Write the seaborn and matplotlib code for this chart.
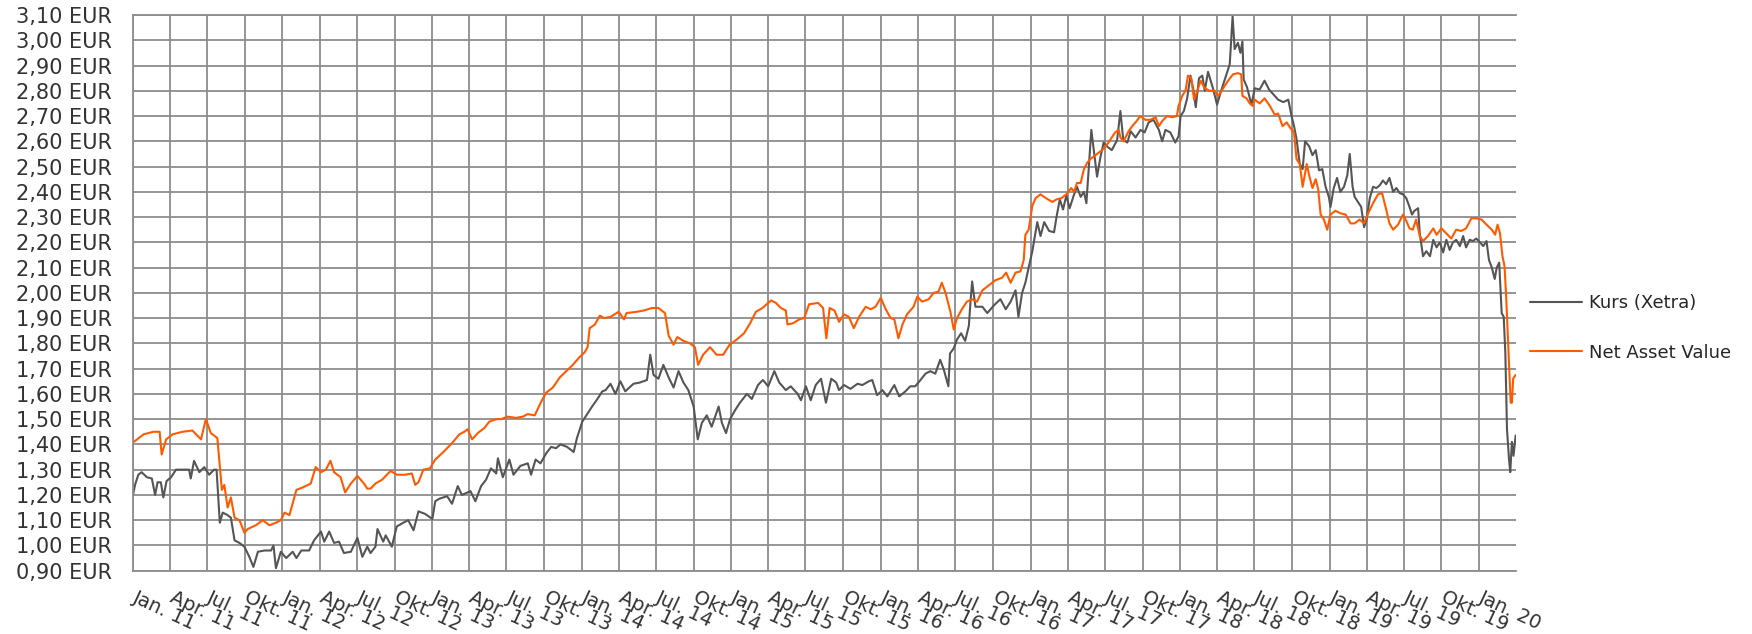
import numpy as np
import pandas as pd
import matplotlib
matplotlib.use("Agg")
import matplotlib.pyplot as plt
import matplotlib.transforms as mtransforms
import seaborn as sns

# values (EUR)
kurs_points = [
    ("2011-01-01", 1.20), ("2011-01-06", 1.24), ("2011-01-14", 1.28), ("2011-01-22", 1.29),
    ("2011-02-04", 1.27), ("2011-02-16", 1.265), ("2011-02-24", 1.20), ("2011-03-02", 1.25),
    ("2011-03-10", 1.25), ("2011-03-16", 1.19), ("2011-03-24", 1.255), ("2011-04-04", 1.27),
    ("2011-04-16", 1.30), ("2011-05-02", 1.30), ("2011-05-18", 1.30), ("2011-05-22", 1.265),
    ("2011-05-30", 1.335), ("2011-06-12", 1.29), ("2011-06-24", 1.31), ("2011-07-06", 1.28),
    ("2011-07-18", 1.30), ("2011-07-24", 1.30), ("2011-08-01", 1.09), ("2011-08-08", 1.13),
    ("2011-08-20", 1.12), ("2011-08-28", 1.11), ("2011-09-06", 1.02), ("2011-09-18", 1.01),
    ("2011-09-30", 0.995), ("2011-10-12", 0.955), ("2011-10-22", 0.915), ("2011-11-02", 0.975),
    ("2011-11-18", 0.98), ("2011-12-04", 0.98), ("2011-12-10", 1.00), ("2011-12-16", 0.91),
    ("2011-12-28", 0.975), ("2012-01-10", 0.95), ("2012-01-26", 0.975), ("2012-02-04", 0.95),
    ("2012-02-16", 0.98), ("2012-03-06", 0.98), ("2012-03-18", 1.02), ("2012-04-04", 1.055),
    ("2012-04-12", 1.015), ("2012-04-24", 1.055), ("2012-05-06", 1.01), ("2012-05-18", 1.015),
    ("2012-05-30", 0.97), ("2012-06-16", 0.975), ("2012-07-02", 1.03), ("2012-07-14", 0.955),
    ("2012-07-26", 0.995), ("2012-08-03", 0.97), ("2012-08-15", 0.995), ("2012-08-20", 1.065),
    ("2012-09-03", 1.015), ("2012-09-09", 1.04), ("2012-09-24", 0.995), ("2012-10-06", 1.075),
    ("2012-10-22", 1.09), ("2012-11-03", 1.10), ("2012-11-16", 1.06), ("2012-11-28", 1.135),
    ("2012-12-14", 1.125), ("2013-01-01", 1.105), ("2013-01-08", 1.175), ("2013-01-18", 1.185),
    ("2013-02-06", 1.195), ("2013-02-18", 1.165), ("2013-03-04", 1.235), ("2013-03-14", 1.20),
    ("2013-04-04", 1.215), ("2013-04-16", 1.175), ("2013-04-30", 1.235), ("2013-05-12", 1.26),
    ("2013-05-24", 1.305), ("2013-06-06", 1.285), ("2013-06-10", 1.345), ("2013-06-22", 1.27),
    ("2013-07-08", 1.34), ("2013-07-18", 1.28), ("2013-08-04", 1.315), ("2013-08-22", 1.325),
    ("2013-08-30", 1.28), ("2013-09-10", 1.34), ("2013-09-22", 1.325), ("2013-10-06", 1.365),
    ("2013-10-18", 1.39), ("2013-10-30", 1.385), ("2013-11-10", 1.40), ("2013-11-26", 1.39),
    ("2013-12-12", 1.37), ("2013-12-20", 1.425), ("2014-01-02", 1.49), ("2014-01-16", 1.525),
    ("2014-01-26", 1.55), ("2014-02-08", 1.58), ("2014-02-20", 1.61), ("2014-02-28", 1.615),
    ("2014-03-12", 1.64), ("2014-03-24", 1.60), ("2014-04-05", 1.65), ("2014-04-17", 1.61),
    ("2014-05-07", 1.64), ("2014-05-23", 1.645), ("2014-06-09", 1.655), ("2014-06-17", 1.755),
    ("2014-06-25", 1.675), ("2014-07-07", 1.66), ("2014-07-19", 1.715), ("2014-08-01", 1.665),
    ("2014-08-13", 1.625), ("2014-08-25", 1.69), ("2014-09-06", 1.645), ("2014-09-18", 1.615),
    ("2014-10-01", 1.55), ("2014-10-11", 1.42), ("2014-10-21", 1.485), ("2014-11-02", 1.515),
    ("2014-11-14", 1.47), ("2014-12-01", 1.55), ("2014-12-09", 1.485), ("2014-12-19", 1.445),
    ("2014-12-29", 1.50), ("2015-01-10", 1.535), ("2015-01-22", 1.565), ("2015-02-08", 1.60),
    ("2015-02-20", 1.58), ("2015-03-07", 1.635), ("2015-03-19", 1.655), ("2015-04-01", 1.63),
    ("2015-04-16", 1.69), ("2015-04-28", 1.645), ("2015-05-14", 1.615), ("2015-05-26", 1.63),
    ("2015-06-12", 1.60), ("2015-06-20", 1.575), ("2015-07-02", 1.63), ("2015-07-14", 1.575),
    ("2015-07-26", 1.635), ("2015-08-08", 1.66), ("2015-08-20", 1.565), ("2015-09-02", 1.66),
    ("2015-09-14", 1.645), ("2015-09-21", 1.615), ("2015-10-03", 1.635), ("2015-10-19", 1.62),
    ("2015-11-05", 1.64), ("2015-11-17", 1.635), ("2015-12-03", 1.65), ("2015-12-11", 1.655),
    ("2015-12-23", 1.595), ("2016-01-05", 1.615), ("2016-01-17", 1.59), ("2016-02-03", 1.635),
    ("2016-02-15", 1.59), ("2016-03-01", 1.61), ("2016-03-13", 1.63), ("2016-03-25", 1.63),
    ("2016-04-07", 1.655), ("2016-04-19", 1.68), ("2016-05-01", 1.69), ("2016-05-13", 1.68),
    ("2016-05-25", 1.735), ("2016-06-03", 1.695), ("2016-06-14", 1.63), ("2016-06-18", 1.76),
    ("2016-06-27", 1.78), ("2016-07-05", 1.815), ("2016-07-15", 1.84), ("2016-07-25", 1.81),
    ("2016-08-03", 1.87), ("2016-08-07", 1.965), ("2016-08-11", 2.045), ("2016-08-19", 1.945),
    ("2016-09-05", 1.945), ("2016-09-17", 1.92), ("2016-10-03", 1.95), ("2016-10-19", 1.975),
    ("2016-11-01", 1.935), ("2016-11-13", 1.965), ("2016-11-25", 2.01), ("2016-12-02", 1.905),
    ("2016-12-11", 2.00), ("2016-12-19", 2.04), ("2016-12-27", 2.10), ("2017-01-05", 2.165),
    ("2017-01-13", 2.24), ("2017-01-17", 2.28), ("2017-01-25", 2.225), ("2017-02-03", 2.28),
    ("2017-02-15", 2.245), ("2017-02-27", 2.24), ("2017-03-05", 2.30), ("2017-03-13", 2.37),
    ("2017-03-21", 2.33), ("2017-03-29", 2.385), ("2017-04-06", 2.335), ("2017-04-17", 2.39),
    ("2017-04-24", 2.42), ("2017-05-03", 2.38), ("2017-05-11", 2.40), ("2017-05-17", 2.355),
    ("2017-05-23", 2.50), ("2017-05-29", 2.645), ("2017-06-04", 2.565), ("2017-06-12", 2.46),
    ("2017-06-20", 2.535), ("2017-06-28", 2.595), ("2017-07-06", 2.58), ("2017-07-18", 2.565),
    ("2017-07-31", 2.605), ("2017-08-08", 2.72), ("2017-08-15", 2.605), ("2017-08-25", 2.595),
    ("2017-09-02", 2.64), ("2017-09-14", 2.615), ("2017-09-26", 2.645), ("2017-10-06", 2.635),
    ("2017-10-16", 2.675), ("2017-10-28", 2.685), ("2017-11-10", 2.645), ("2017-11-18", 2.60),
    ("2017-11-26", 2.645), ("2017-12-08", 2.635), ("2017-12-20", 2.595), ("2017-12-28", 2.62),
    ("2018-01-02", 2.70), ("2018-01-10", 2.72), ("2018-01-18", 2.77), ("2018-01-26", 2.86),
    ("2018-02-02", 2.805), ("2018-02-08", 2.735), ("2018-02-16", 2.85), ("2018-02-24", 2.86),
    ("2018-03-02", 2.80), ("2018-03-10", 2.875), ("2018-03-22", 2.81), ("2018-04-01", 2.745),
    ("2018-04-12", 2.805), ("2018-04-24", 2.865), ("2018-05-02", 2.905), ("2018-05-09", 3.095),
    ("2018-05-14", 2.965), ("2018-05-22", 2.99), ("2018-05-28", 2.95), ("2018-06-02", 2.995),
    ("2018-06-05", 2.845), ("2018-06-13", 2.815), ("2018-06-24", 2.745), ("2018-07-02", 2.81),
    ("2018-07-14", 2.805), ("2018-07-26", 2.84), ("2018-08-06", 2.805), ("2018-08-17", 2.785),
    ("2018-08-28", 2.765), ("2018-09-10", 2.755), ("2018-09-22", 2.765), ("2018-09-30", 2.70),
    ("2018-10-06", 2.66), ("2018-10-12", 2.61), ("2018-10-20", 2.51), ("2018-10-27", 2.49),
    ("2018-11-02", 2.60), ("2018-11-12", 2.58), ("2018-11-20", 2.545), ("2018-11-28", 2.565),
    ("2018-12-06", 2.485), ("2018-12-14", 2.49), ("2018-12-22", 2.42), ("2018-12-30", 2.38),
    ("2019-01-03", 2.34), ("2019-01-11", 2.415), ("2019-01-19", 2.455), ("2019-01-27", 2.40),
    ("2019-02-05", 2.42), ("2019-02-13", 2.465), ("2019-02-19", 2.55), ("2019-02-26", 2.42),
    ("2019-03-03", 2.38), ("2019-03-11", 2.36), ("2019-03-19", 2.34), ("2019-03-26", 2.26),
    ("2019-04-01", 2.29), ("2019-04-09", 2.375), ("2019-04-17", 2.42), ("2019-04-25", 2.415),
    ("2019-05-03", 2.425), ("2019-05-11", 2.445), ("2019-05-19", 2.43), ("2019-05-27", 2.455),
    ("2019-06-05", 2.40), ("2019-06-13", 2.415), ("2019-06-21", 2.395), ("2019-06-29", 2.39),
    ("2019-07-07", 2.375), ("2019-07-15", 2.34), ("2019-07-21", 2.31), ("2019-07-27", 2.325),
    ("2019-08-05", 2.335), ("2019-08-09", 2.235), ("2019-08-17", 2.145), ("2019-08-25", 2.165),
    ("2019-09-03", 2.145), ("2019-09-11", 2.21), ("2019-09-19", 2.18), ("2019-09-27", 2.20),
    ("2019-10-05", 2.16), ("2019-10-13", 2.21), ("2019-10-21", 2.17), ("2019-10-29", 2.20),
    ("2019-11-06", 2.21), ("2019-11-15", 2.185), ("2019-11-23", 2.225), ("2019-11-30", 2.18),
    ("2019-12-09", 2.21), ("2019-12-17", 2.205), ("2019-12-25", 2.215), ("2020-01-03", 2.20),
    ("2020-01-11", 2.185), ("2020-01-19", 2.205), ("2020-01-25", 2.13), ("2020-02-01", 2.10),
    ("2020-02-08", 2.055), ("2020-02-13", 2.10), ("2020-02-19", 2.12), ("2020-02-25", 1.92),
    ("2020-03-01", 1.905), ("2020-03-05", 1.76), ("2020-03-09", 1.46), ("2020-03-14", 1.34),
    ("2020-03-17", 1.29), ("2020-03-21", 1.41), ("2020-03-25", 1.355), ("2020-03-30", 1.435),
]

nav_points = [
    ("2011-01-03", 1.41), ("2011-01-27", 1.44), ("2011-02-20", 1.45), ("2011-03-07", 1.45),
    ("2011-03-12", 1.36), ("2011-03-23", 1.42), ("2011-04-08", 1.44), ("2011-05-02", 1.45),
    ("2011-05-26", 1.455), ("2011-06-16", 1.42), ("2011-06-28", 1.50), ("2011-07-10", 1.445),
    ("2011-07-26", 1.425), ("2011-08-06", 1.22), ("2011-08-12", 1.24), ("2011-08-20", 1.15),
    ("2011-08-28", 1.19), ("2011-09-06", 1.11), ("2011-09-18", 1.10), ("2011-09-30", 1.05),
    ("2011-10-08", 1.065), ("2011-10-28", 1.08), ("2011-11-14", 1.10), ("2011-11-30", 1.08),
    ("2011-12-16", 1.09), ("2011-12-28", 1.10), ("2012-01-06", 1.13), ("2012-01-18", 1.12),
    ("2012-02-04", 1.22), ("2012-02-20", 1.23), ("2012-03-10", 1.245), ("2012-03-22", 1.31),
    ("2012-04-04", 1.29), ("2012-04-16", 1.30), ("2012-04-27", 1.335), ("2012-05-06", 1.29),
    ("2012-05-22", 1.27), ("2012-06-02", 1.21), ("2012-06-16", 1.245), ("2012-07-02", 1.275),
    ("2012-07-18", 1.245), ("2012-07-26", 1.225), ("2012-08-03", 1.225), ("2012-08-15", 1.245),
    ("2012-08-31", 1.26), ("2012-09-21", 1.295), ("2012-10-06", 1.28), ("2012-10-26", 1.28),
    ("2012-11-12", 1.285), ("2012-11-20", 1.24), ("2012-11-28", 1.25), ("2012-12-10", 1.30),
    ("2012-12-26", 1.305), ("2013-01-08", 1.34), ("2013-01-28", 1.37), ("2013-02-18", 1.405),
    ("2013-03-08", 1.44), ("2013-03-20", 1.45), ("2013-03-28", 1.46), ("2013-04-08", 1.42),
    ("2013-04-22", 1.445), ("2013-05-08", 1.465), ("2013-05-20", 1.49), ("2013-06-06", 1.50),
    ("2013-06-18", 1.50), ("2013-07-04", 1.51), ("2013-07-24", 1.505), ("2013-08-10", 1.51),
    ("2013-08-22", 1.52), ("2013-09-08", 1.515), ("2013-09-24", 1.57), ("2013-10-06", 1.605),
    ("2013-10-22", 1.625), ("2013-11-08", 1.665), ("2013-11-24", 1.69), ("2013-12-10", 1.715),
    ("2013-12-26", 1.745), ("2014-01-08", 1.765), ("2014-01-15", 1.785), ("2014-01-20", 1.86),
    ("2014-02-02", 1.875), ("2014-02-14", 1.91), ("2014-02-24", 1.90), ("2014-03-12", 1.905),
    ("2014-04-01", 1.925), ("2014-04-14", 1.895), ("2014-04-20", 1.92), ("2014-05-15", 1.925),
    ("2014-06-01", 1.93), ("2014-06-21", 1.94), ("2014-07-07", 1.94), ("2014-07-23", 1.92),
    ("2014-08-01", 1.83), ("2014-08-13", 1.795), ("2014-08-22", 1.825), ("2014-09-06", 1.81),
    ("2014-09-22", 1.80), ("2014-10-04", 1.785), ("2014-10-12", 1.715), ("2014-10-24", 1.755),
    ("2014-11-10", 1.785), ("2014-11-26", 1.755), ("2014-12-12", 1.755), ("2014-12-28", 1.795),
    ("2015-01-14", 1.815), ("2015-02-01", 1.84), ("2015-02-16", 1.88), ("2015-03-02", 1.925),
    ("2015-03-18", 1.94), ("2015-04-08", 1.97), ("2015-04-20", 1.96), ("2015-05-02", 1.94),
    ("2015-05-14", 1.93), ("2015-05-18", 1.875), ("2015-06-01", 1.88), ("2015-06-16", 1.895),
    ("2015-06-28", 1.90), ("2015-07-10", 1.955), ("2015-08-01", 1.96), ("2015-08-13", 1.94),
    ("2015-08-21", 1.82), ("2015-08-29", 1.94), ("2015-09-10", 1.93), ("2015-09-21", 1.885),
    ("2015-10-03", 1.915), ("2015-10-15", 1.905), ("2015-10-27", 1.86), ("2015-11-09", 1.905),
    ("2015-11-25", 1.945), ("2015-12-07", 1.935), ("2015-12-19", 1.945), ("2016-01-01", 1.98),
    ("2016-01-13", 1.935), ("2016-01-25", 1.90), ("2016-02-03", 1.895), ("2016-02-13", 1.82),
    ("2016-02-23", 1.875), ("2016-03-05", 1.915), ("2016-03-21", 1.945), ("2016-03-30", 1.985),
    ("2016-04-11", 1.965), ("2016-04-27", 1.975), ("2016-05-09", 2.00), ("2016-05-21", 2.005),
    ("2016-05-29", 2.04), ("2016-06-07", 2.00), ("2016-06-19", 1.925), ("2016-06-27", 1.855),
    ("2016-07-05", 1.90), ("2016-07-17", 1.935), ("2016-07-29", 1.965), ("2016-08-11", 1.975),
    ("2016-08-23", 1.965), ("2016-09-05", 2.01), ("2016-09-21", 2.03), ("2016-10-07", 2.05),
    ("2016-10-23", 2.06), ("2016-11-02", 2.08), ("2016-11-13", 2.04), ("2016-11-25", 2.08),
    ("2016-12-07", 2.085), ("2016-12-15", 2.13), ("2016-12-19", 2.23), ("2016-12-27", 2.25),
    ("2017-01-05", 2.345), ("2017-01-13", 2.375), ("2017-01-25", 2.39), ("2017-02-07", 2.375),
    ("2017-02-23", 2.36), ("2017-03-05", 2.37), ("2017-03-17", 2.375), ("2017-03-29", 2.39),
    ("2017-04-10", 2.415), ("2017-04-17", 2.40), ("2017-04-24", 2.435), ("2017-05-03", 2.435),
    ("2017-05-11", 2.49), ("2017-05-19", 2.515), ("2017-05-27", 2.53), ("2017-06-04", 2.54),
    ("2017-06-16", 2.555), ("2017-06-28", 2.57), ("2017-07-10", 2.595), ("2017-07-18", 2.615),
    ("2017-07-26", 2.635), ("2017-08-04", 2.645), ("2017-08-08", 2.615), ("2017-08-16", 2.60),
    ("2017-08-28", 2.64), ("2017-09-06", 2.66), ("2017-09-14", 2.675), ("2017-09-26", 2.70),
    ("2017-10-08", 2.685), ("2017-10-20", 2.685), ("2017-11-02", 2.695), ("2017-11-10", 2.66),
    ("2017-11-18", 2.68), ("2017-11-30", 2.70), ("2017-12-12", 2.695), ("2017-12-24", 2.70),
    ("2017-12-28", 2.74), ("2018-01-06", 2.78), ("2018-01-14", 2.80), ("2018-01-20", 2.86),
    ("2018-01-28", 2.85), ("2018-02-04", 2.765), ("2018-02-12", 2.80), ("2018-02-20", 2.84),
    ("2018-03-02", 2.81), ("2018-03-14", 2.80), ("2018-03-26", 2.80), ("2018-04-04", 2.78),
    ("2018-04-16", 2.81), ("2018-04-28", 2.84), ("2018-05-10", 2.865), ("2018-05-22", 2.87),
    ("2018-05-30", 2.865), ("2018-06-02", 2.78), ("2018-06-12", 2.77), ("2018-06-20", 2.75),
    ("2018-06-27", 2.74), ("2018-07-02", 2.765), ("2018-07-14", 2.75), ("2018-07-26", 2.77),
    ("2018-08-08", 2.74), ("2018-08-20", 2.705), ("2018-08-28", 2.71), ("2018-09-08", 2.66),
    ("2018-09-18", 2.675), ("2018-09-26", 2.655), ("2018-10-06", 2.635), ("2018-10-12", 2.53),
    ("2018-10-20", 2.51), ("2018-10-27", 2.42), ("2018-11-06", 2.51), ("2018-11-12", 2.465),
    ("2018-11-20", 2.415), ("2018-11-28", 2.45), ("2018-12-04", 2.41), ("2018-12-10", 2.31),
    ("2018-12-18", 2.29), ("2018-12-26", 2.25), ("2019-01-03", 2.31), ("2019-01-15", 2.325),
    ("2019-01-27", 2.315), ("2019-02-09", 2.31), ("2019-02-21", 2.275), ("2019-03-03", 2.275),
    ("2019-03-15", 2.29), ("2019-03-26", 2.275), ("2019-04-05", 2.315), ("2019-04-17", 2.355),
    ("2019-04-29", 2.39), ("2019-05-09", 2.395), ("2019-05-19", 2.33), ("2019-05-27", 2.275),
    ("2019-06-05", 2.25), ("2019-06-17", 2.27), ("2019-06-29", 2.31), ("2019-07-07", 2.285),
    ("2019-07-15", 2.255), ("2019-07-23", 2.25), ("2019-07-31", 2.29), ("2019-08-09", 2.225),
    ("2019-08-17", 2.205), ("2019-08-29", 2.225), ("2019-09-11", 2.255), ("2019-09-19", 2.23),
    ("2019-10-01", 2.255), ("2019-10-13", 2.235), ("2019-10-25", 2.215), ("2019-11-06", 2.25),
    ("2019-11-18", 2.245), ("2019-11-30", 2.255), ("2019-12-13", 2.295), ("2019-12-25", 2.295),
    ("2020-01-07", 2.29), ("2020-01-19", 2.27), ("2020-02-01", 2.25), ("2020-02-09", 2.23),
    ("2020-02-15", 2.27), ("2020-02-21", 2.235), ("2020-02-27", 2.145), ("2020-03-03", 2.105),
    ("2020-03-07", 1.985), ("2020-03-13", 1.76), ("2020-03-18", 1.565), ("2020-03-21", 1.565),
    ("2020-03-24", 1.66), ("2020-03-30", 1.675),
]

series_names = ["Kurs (Xetra)", "Net Asset Value"]
series_colors = ["#555555", "#ff5a00"]
month_names = {1: "Jan.", 4: "Apr.", 7: "Jul.", 10: "Okt."}

kurs_dates, kurs_values = zip(*kurs_points)
nav_dates, nav_values = zip(*nav_points)

df = pd.concat([
    pd.DataFrame({"date": pd.to_datetime(kurs_dates), "value": kurs_values, "series": series_names[0]}),
    pd.DataFrame({"date": pd.to_datetime(nav_dates), "value": nav_values, "series": series_names[1]}),
], ignore_index=True)

sns.set_style("white")
plt.rcParams["font.family"] = ["DejaVu Sans"]

grid_color = "#8c8c8c"
text_color = "#333333"

fig = plt.figure(figsize=(17.52, 6.34), dpi=100)
ax = fig.add_axes([133 / 1752, 1 - 570.7 / 634, (1516 - 133) / 1752, (570.7 - 15) / 634])

sns.lineplot(data=df, x="date", y="value", hue="series", hue_order=series_names,
             palette=series_colors, linewidth=1.5, estimator=None, ax=ax)

ax.set_xlim(pd.Timestamp("2011-01-01"), pd.Timestamp("2020-03-31"))
ax.set_ylim(0.9, 3.1)

y_ticks = np.round(np.arange(0.9, 3.101, 0.1), 2)
ax.set_yticks(y_ticks)
ax.set_yticklabels([f"{v:.2f}".replace(".", ",") + " EUR" for v in y_ticks])

q_ticks = pd.date_range("2011-01-01", "2020-01-01", freq="QS")
ax.set_xticks(q_ticks)
ax.set_xticklabels([f"{month_names[d.month]} {d.strftime('%y')}" for d in q_ticks],
                   rotation=-25, ha="left", va="top", rotation_mode="anchor")
ax.set_xticks(pd.date_range("2011-01-01", "2020-03-01", freq="MS"), minor=True)

ax.grid(True, which="major", color=grid_color, linewidth=1.3)
ax.tick_params(axis="both", which="both", colors=grid_color, labelcolor=text_color, labelsize=15)
ax.tick_params(axis="y", length=6, width=1.3, pad=9)
ax.tick_params(axis="x", which="major", length=5, width=1.3, pad=7, labelsize=14)
ax.tick_params(axis="x", which="minor", length=4, width=1.0)
ax.spines["right"].set_visible(False)
for side in ["left", "bottom", "top"]:
    ax.spines[side].set_color(grid_color)
    ax.spines[side].set_linewidth(1.3)
ax.set_xlabel("")
ax.set_ylabel("")

# nudge the slanted date labels a little to the right of their ticks
shift = mtransforms.ScaledTranslation(5 / 100, 0, fig.dpi_scale_trans)
for lbl in ax.get_xticklabels():
    lbl.set_transform(lbl.get_transform() + shift)

handles, labels = ax.get_legend_handles_labels()
ax.legend(handles, labels, loc="center left", bbox_to_anchor=(1530 / 1752, 1 - 328 / 634),
          bbox_transform=fig.transFigure, frameon=False, fontsize=13, handlelength=2.9,
          handletextpad=0.35, labelspacing=1.75, borderpad=0, borderaxespad=0)

fig.savefig("out.png", dpi=100)
